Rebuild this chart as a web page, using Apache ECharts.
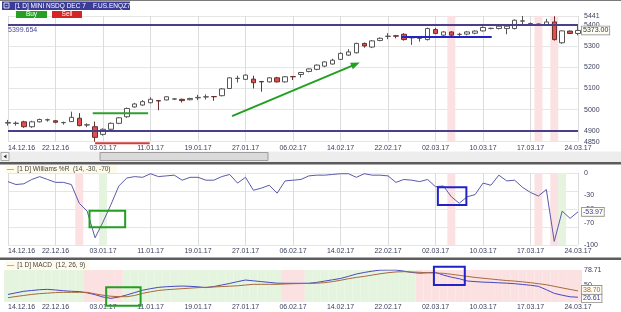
<!DOCTYPE html>
<html><head><meta charset="utf-8">
<script src="https://cdn.jsdelivr.net/npm/echarts@6/dist/echarts.min.js"></script>
<style>html,body{margin:0;padding:0;background:#fff}#c{width:621px;height:312px}</style>
</head><body><div id="c"></div>
<script>
// ---------- data ----------
const tickLabels = ['14.12.16','22.12.16','03.01.17','11.01.17','19.01.17','27.01.17','06.02.17','14.02.17','22.02.17','02.03.17','10.03.17','17.03.17','24.03.17'];
const opens  = [4937,4935,4943,4920,4943,4952,4948,4939,4944,4960,4928,4920,4884,4908,4936,4967,5013,5022,5033,5043,5046,5050,5049,5047,5056,5060,5062,5066,5100,5147,5143,5144,5133,5131,5150,5131,5156,5166,5180,5190,5205,5215,5237,5257,5268,5312,5295,5326,5345,5348,5355,5338,5336,5330,5377,5351,5366,5354,5356,5360,5371,5382,5382,5382,5382,5417,5405,5402,5398,5413,5315,5370,5359];
const closes = [4940,4937,4920,4943,4954,4953,4941,4940,4964,4925,4929,4870,4908,4936,4962,5006,5027,5038,5049,5041,5061,5051,5043,5053,5058,5061,5061,5098,5150,5148,5163,5127,5131,5150,5131,5155,5155,5175,5192,5210,5225,5233,5265,5272,5312,5300,5324,5336,5346,5346,5330,5343,5337,5382,5359,5366,5351,5355,5366,5370,5387,5383,5393,5393,5421,5418,5406,5403,5413,5330,5371,5359,5373];
const lows   = [4925,4925,4915,4915,4940,4944,4936,4930,4942,4922,4918,4850,4878,4903,4932,4962,5010,5018,5030,4998,5044,5046,5034,5044,5045,5048,5042,5063,5098,5128,5140,5100,5085,5128,5128,5128,5140,5152,5176,5186,5200,5212,5234,5253,5265,5292,5290,5322,5332,5336,5325,5305,5320,5326,5355,5345,5346,5345,5350,5355,5368,5378,5378,5355,5378,5400,5400,5398,5395,5325,5310,5356,5350];
const highs  = [4952,4945,4948,4948,4958,4958,4952,4944,4991,4984,4936,4944,4912,4940,4966,5010,5032,5045,5058,5046,5063,5054,5052,5056,5070,5072,5064,5102,5152,5160,5166,5160,5135,5153,5155,5158,5159,5178,5195,5213,5228,5240,5270,5285,5315,5316,5328,5340,5360,5352,5360,5346,5340,5386,5385,5370,5370,5362,5370,5374,5392,5386,5396,5398,5425,5441,5410,5406,5428,5440,5374,5373,5398];
const williamsR = [-12,-16,-15,-9,-5,-9,-13,-13,-16,-42,-53,-90,-68,-44,-18,-7,-5,-6,-1,-5,-4,-3,-10,-6,-6,-10,-10,-5,-2,-14,-6,-24,-21,-17,-28,-11,-10,-9,-4,-3,-3,-2,-1,-1,-6,-1,-3,-3,-4,-13,-9,-10,-12,-9,-19,-18,-33,-42,-33,-30,-14,-17,-3,-11,-10,-20,-27,-32,-23,-95,-53,-63,-53.97];
const macdLine = [32,35,38,39.5,41,41.7,40.5,39,38,37.5,35,31.5,27,24.5,27,31,35.5,40,43,45.5,46.7,47.5,48,47.5,46.5,45,47,50,53,56.5,59.5,58,56.5,55,53.5,53.3,53.3,53.3,53.3,55,57.5,60,62.5,66.5,71,74,76.5,78.5,78.7,78.7,76.5,74,72.5,73.5,74,69,65,62,57.7,56.5,55.5,55,54.2,53.5,52.5,51,49.5,47.5,41,34,30.5,27.5,26.61];
const signalLine = [25.7,28,30,32,33.5,34.5,35.5,36,36,36,36,33,30.5,28.5,27.8,27.6,30,34,37,39.5,41,42,43,44,45,45.6,46.3,47,47.7,48.5,50,51.3,51.3,51.3,51.3,52,52.5,52.8,53,53.5,54.5,56.5,59,62,64.5,66.5,69,71.5,73.5,75,75.5,75,74.3,73.5,73,72.4,70.5,68.5,66.5,64.5,63,61.5,60,58.5,57.5,56,54.5,52.5,50.5,47.5,44.5,41.5,38.7];
// signal shading (index of sessions)
const pricePink = [56,67,69];
const wrPink = [9,56,67,69];
const wrGreen = [12,70];
const macdPink = [10,11,12,13,14,35,36,37].concat(Array.from({length:21},(_,k)=>52+k));
const priceTicks = [4850,4900,5000,5100,5200,5300,5400,5441];
const wrTicks = [0,-30,-50,-70,-100];
const macdTicks = [50,78.71];
const levelTop = 5399.654, levelBottom = 4900, lastPrice = 5373.00;
const lastWR = -53.97, lastMacd = 26.61, lastSignal = 38.70;

// ---------- build ----------
const N = opens.length;
const cats = opens.map((_, i) => i % 6 === 0 ? tickLabels[i / 6] : 'd' + i);
const candles = opens.map((o, i) => [o, closes[i], lows[i], highs[i]]);
const PINK = '#fbe1e1', GREEN = '#e5f4df';
const FONT = 'Liberation Sans, Arial, sans-serif';
const LBL = '#3a3f5c';

const chart = echarts.init(document.getElementById('c'));
const grids = [
  {left: 8, right: 43, top: 16, height: 125.6},
  {left: 8, right: 43, top: 173, height: 72},
  {left: 8, right: 43, top: 270, height: 32}
];
const xAxes = [0,1,2].map(g => ({
  type: 'category', gridIndex: g, data: cats, boundaryGap: false,
  axisLine: {show: false}, axisTick: {show: false},
  axisLabel: {interval: 5, fontSize: 7, color: LBL, fontFamily: FONT, margin: [2.5, 3, 1.5][g], alignMinLabel: 'left'},
  splitLine: {show: true, interval: 5, lineStyle: {color: '#dcdcdc', width: 1}}
}));
const yBase = {type: 'value', position: 'right', axisLine: {show: false}, axisTick: {show: false}};
const fmt = v => (Math.abs(v - Math.round(v)) < 1e-6 ? String(Math.round(v)) : v.toFixed(2));
const lab = (vals) => ({customValues: vals, fontSize: 7, color: LBL, fontFamily: FONT, margin: 6, formatter: fmt});
const yAxes = [
  Object.assign({}, yBase, {gridIndex: 0, min: 4850, max: 5441, splitNumber: 6, axisLabel: lab(priceTicks), splitLine: {lineStyle: {color: '#e6e6e6'}}}),
  Object.assign({}, yBase, {gridIndex: 1, min: -100, max: 0, interval: 25, axisLabel: lab(wrTicks), splitLine: {lineStyle: {color: '#e6e6e6'}}}),
  Object.assign({}, yBase, {gridIndex: 2, min: 17.5, max: 78.71, axisLabel: lab(macdTicks), splitLine: {show: false}})
];
const shade = (val, pinkIdx, greenIdx, fillGreen) => opens.map((_, i) => {
  if (pinkIdx.includes(i)) return {value: val, itemStyle: {color: PINK}};
  if (greenIdx.includes(i) || fillGreen) return {value: val, itemStyle: {color: GREEN}};
  return '-';
});
const HIDDEN = {color: 'rgba(0,0,0,0)', width: 0, type: 'solid'};
const boxLabel = (txt, color, off) => ({show: true, position: 'end', formatter: txt, color: color, fontSize: 7, fontFamily: FONT,
  backgroundColor: '#fdfdf4', borderColor: '#8a8a8a', borderWidth: 0.8, padding: [1, 1, 0, 1], distance: 4, offset: off || [0, 0]});

chart.setOption({
  animation: false,
  grid: grids, xAxis: xAxes, yAxis: yAxes,
  series: [
    {type: 'bar', xAxisIndex: 0, yAxisIndex: 0, data: shade(5441, pricePink, [], false), barWidth: '100%', silent: true, z: 1},
    {type: 'candlestick', xAxisIndex: 0, yAxisIndex: 0, data: candles, barWidth: 5, z: 3,
      itemStyle: {color: '#ffffff', color0: '#e0504c', borderColor: '#555555', borderColor0: '#6a3030', borderWidth: 1},
      markLine: {symbol: 'none', silent: true, animation: false, data: [
        {yAxis: levelTop, lineStyle: {color: '#4b3f8c', width: 2, type: 'solid'},
          label: {show: true, position: 'insideStartBottom', formatter: String(levelTop), color: '#4a4aa0', fontSize: 7, fontFamily: FONT, distance: [0, 2]}},
        {yAxis: levelBottom, lineStyle: {color: '#4b3f8c', width: 2, type: 'solid'}, label: {show: false}},
        {yAxis: lastPrice, lineStyle: HIDDEN, label: boxLabel(lastPrice.toFixed(2), '#333333')}
      ]}},
    {type: 'bar', xAxisIndex: 1, yAxisIndex: 1, data: shade(-100, wrPink, wrGreen, false), barWidth: '100%', silent: true, z: 1},
    {type: 'line', xAxisIndex: 1, yAxisIndex: 1, data: williamsR, symbol: 'none', z: 3,
      lineStyle: {color: '#5a5aaa', width: 1}, itemStyle: {color: '#5a5aaa'},
      markLine: {symbol: 'none', silent: true, data: [{yAxis: lastWR, lineStyle: HIDDEN, label: boxLabel(lastWR.toFixed(2), '#3a3aa0')}]}},
    {type: 'bar', xAxisIndex: 2, yAxisIndex: 2, data: shade(78.71, macdPink, [], true), barWidth: '100%', silent: true, z: 1},
    {type: 'line', xAxisIndex: 2, yAxisIndex: 2, data: macdLine, symbol: 'none', z: 3,
      lineStyle: {color: '#4747c4', width: 1}, itemStyle: {color: '#4747c4'},
      markLine: {symbol: 'none', silent: true, data: [{yAxis: lastMacd, lineStyle: HIDDEN, label: boxLabel(lastMacd.toFixed(2), '#3a3ac0', [0, 1])}]}},
    {type: 'line', xAxisIndex: 2, yAxisIndex: 2, data: signalLine, symbol: 'none', z: 3,
      lineStyle: {color: '#a8693c', width: 1}, itemStyle: {color: '#a8693c'},
      markLine: {symbol: 'none', silent: true, data: [{yAxis: lastSignal, lineStyle: HIDDEN, label: boxLabel(lastSignal.toFixed(2), '#b0652a', [0, -1])}]}}
  ]
});

// ---------- annotations (in data units) ----------
const annSegments = [
  {g: 0, x1: 10.7, x2: 17.7, y: 4983, color: '#2f9f2f'},
  {g: 0, x1: 11, x2: 17.9, y: 4842, color: '#d23c3c'},
  {g: 0, x1: 49.7, x2: 61.1, y: 5342, color: '#2222c8'}
];
const annArrow = {g: 0, x1: 28.3, y1: 4970, x2: 44.2, y2: 5218, color: '#22a022'};
const annBoxes = [
  {g: 1, x1: 10.3, x2: 14.8, y1: -52.4, y2: -75.4, color: '#22a022'},
  {g: 1, x1: 54.3, x2: 57.9, y1: -19.9, y2: -44.4, color: '#2222c8'},
  {g: 2, x1: 12.4, x2: 16.75, y1: 45.6, y2: 10.4, color: '#22a022'},
  {g: 2, x1: 53.8, x2: 57.7, y1: 85, y2: 50, color: '#2222c8'}
];
function px(g, xi, v) {
  const a = chart.convertToPixel({gridIndex: g}, [0, v]);
  const b = chart.convertToPixel({gridIndex: g}, [N - 1, v]);
  return [a[0] + (b[0] - a[0]) * xi / (N - 1), a[1]];
}
const gfx = [];
// frame / chrome
gfx.push({type: 'rect', shape: {x: 0, y: 0, width: 621, height: 1}, style: {fill: '#7a7a7a'}, z: 10});
gfx.push({type: 'rect', shape: {x: 2, y: 1.5, width: 128, height: 8.5}, style: {fill: '#3b3b98'}, z: 10});
gfx.push({type: 'rect', shape: {x: 4, y: 3, width: 5, height: 5}, style: {fill: '#3b3b98', stroke: '#ffffff', lineWidth: 0.8}, z: 11});
gfx.push({type: 'rect', shape: {x: 5.5, y: 5.2, width: 2, height: 0.6}, style: {fill: '#ffffff'}, z: 11});
gfx.push({type: 'text', x: 15, y: 6, style: {text: '[1 D] MINI NSDQ DEC 7    F.US.ENQZ7', fill: '#ffffff', fontSize: 6.5, fontFamily: FONT, verticalAlign: 'middle'}, z: 11});
gfx.push({type: 'rect', shape: {x: 16, y: 11, width: 31, height: 7}, style: {fill: '#25a025'}, z: 10});
gfx.push({type: 'text', x: 31.5, y: 14.6, style: {text: 'Buy', fill: '#ffffff', fontSize: 6.5, fontFamily: FONT, align: 'center', verticalAlign: 'middle'}, z: 11});
gfx.push({type: 'rect', shape: {x: 52, y: 11, width: 30, height: 7}, style: {fill: '#d42424'}, z: 10});
gfx.push({type: 'text', x: 67, y: 14.6, style: {text: 'Sell', fill: '#ffffff', fontSize: 6.5, fontFamily: FONT, align: 'center', verticalAlign: 'middle'}, z: 11});
// scrollbar
gfx.push({type: 'rect', shape: {x: 0, y: 151.5, width: 621, height: 10.5}, style: {fill: '#ededed'}, z: 10});
gfx.push({type: 'rect', shape: {x: 100, y: 152.5, width: 168, height: 8}, style: {fill: '#dadada', stroke: '#8c8c8c', lineWidth: 0.8}, z: 11});
gfx.push({type: 'rect', shape: {x: 1, y: 152.5, width: 8, height: 8}, style: {fill: '#f6f6f6', stroke: '#9a9a9a', lineWidth: 0.8}, z: 11});
gfx.push({type: 'polygon', shape: {points: [[3.5, 156.5], [6.5, 154.5], [6.5, 158.5]]}, style: {fill: '#333'}, z: 12});
// separators
gfx.push({type: 'rect', shape: {x: 0, y: 162, width: 621, height: 2.5}, style: {fill: '#5c5c5c'}, z: 10});
gfx.push({type: 'rect', shape: {x: 0, y: 257.5, width: 621, height: 2.5}, style: {fill: '#5c5c5c'}, z: 10});
// panel titles
const titleRich = {a: {fill: '#5a5aaa', fontSize: 7, fontFamily: FONT}, b: {fill: '#444444', fontSize: 6.5, fontFamily: FONT}};
gfx.push({type: 'rect', shape: {x: 5, y: 165, width: 112, height: 8}, style: {fill: '#fffbea'}, z: 10});
gfx.push({type: 'text', x: 7, y: 169, style: {text: '{a|—} {b|[1 D] Williams %R  (14, -30, -70)}', rich: titleRich, verticalAlign: 'middle'}, z: 11});
gfx.push({type: 'rect', shape: {x: 5, y: 261, width: 84, height: 8}, style: {fill: '#fffbea'}, z: 10});
gfx.push({type: 'text', x: 7, y: 265, style: {text: '{a|—} {b|[1 D] MACD  (12, 26, 9)}', rich: titleRich, verticalAlign: 'middle'}, z: 11});
// annotations
annSegments.forEach(s => {
  const p1 = px(s.g, s.x1, s.y), p2 = px(s.g, s.x2, s.y);
  gfx.push({type: 'line', shape: {x1: p1[0], y1: p1[1], x2: p2[0], y2: p2[1]}, style: {stroke: s.color, lineWidth: 2}, z: 20});
});
(function () {
  const a = annArrow, p1 = px(a.g, a.x1, a.y1), p2 = px(a.g, a.x2, a.y2);
  const dx = p2[0] - p1[0], dy = p2[1] - p1[1], L = Math.hypot(dx, dy), ux = dx / L, uy = dy / L;
  const nx = -uy, ny = ux;
  gfx.push({type: 'line', shape: {x1: p1[0], y1: p1[1], x2: p2[0] - ux * 4, y2: p2[1] - uy * 4}, style: {stroke: a.color, lineWidth: 2}, z: 20});
  const tip = [p2[0] + ux * 2, p2[1] + uy * 2];
  const b = [p2[0] - ux * 7, p2[1] - uy * 7];
  gfx.push({type: 'polygon', shape: {points: [tip, [b[0] + nx * 3.5, b[1] + ny * 3.5], [b[0] - nx * 3.5, b[1] - ny * 3.5]]}, style: {fill: a.color}, z: 20});
})();
annBoxes.forEach(s => {
  const p1 = px(s.g, s.x1, s.y1), p2 = px(s.g, s.x2, s.y2);
  gfx.push({type: 'rect', shape: {x: Math.min(p1[0], p2[0]), y: Math.min(p1[1], p2[1]), width: Math.abs(p2[0] - p1[0]), height: Math.abs(p2[1] - p1[1])},
    style: {fill: 'none', stroke: s.color, lineWidth: 2}, z: 20});
});
chart.setOption({graphic: gfx});
</script>
</body></html>
